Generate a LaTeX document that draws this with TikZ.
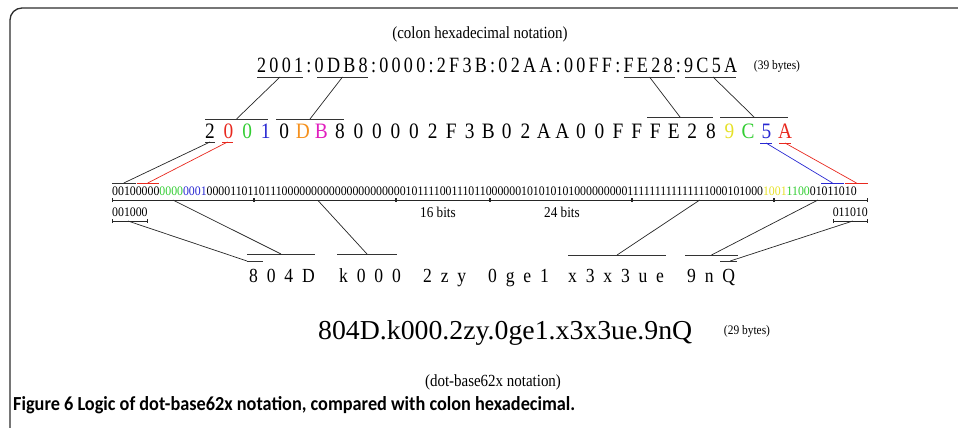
\documentclass[tikz,border=0pt]{standalone}
\usepackage{graphicx}
\usepackage{fontspec}
\setmainfont{Liberation Serif}
\newfontfamily\capfont{Carlito}
\usetikzlibrary{arrows.meta}
\definecolor{hred}{RGB}{232,40,30}
\definecolor{hgreen}{RGB}{50,205,50}
\definecolor{hblue}{RGB}{40,40,210}
\definecolor{horange}{RGB}{245,145,30}
\definecolor{hmagenta}{RGB}{225,30,190}
\definecolor{hyellow}{RGB}{230,225,40}
\definecolor{framegray}{RGB}{45,45,45}
\newcommand\narrow[1]{\scalebox{0.88}[1]{#1}}
\newcommand\bitsq[1]{\scalebox{0.9085}[1]{#1}}
\makeatletter
\newcommand\spread[2]{{\def\sp@first{1}\@tfor\sp@c:=#2\do{\ifnum\sp@first=1 \def\sp@first{0}\else\hspace{#1}\fi{\sp@c}}}}
\makeatother
\tikzset{
  lnk/.style={line width=0.7pt, black!85},
  bar/.style={line width=0.9pt, black!80},
  brk/.style={line width=0.7pt, black!85, {Bar[width=4pt]}-{Bar[width=4pt]}},
  hexch/.style={font=\fontsize{22}{22}\selectfont, inner sep=0pt, anchor=base},
  b62/.style={font=\fontsize{20}{20}\selectfont, inner sep=0pt, anchor=base west},
  bitfont/.style={font=\fontsize{13}{13}\selectfont, inner sep=0pt, anchor=base west},
  note/.style={font=\fontsize{15}{15}\selectfont, inner sep=0pt, anchor=base},
}
\begin{document}
\begin{tikzpicture}[x=1pt,y=-1pt]
        \useasboundingbox (0,0) rectangle (958,428);
        % frame
        \draw[line width=1.3pt, framegray, rounded corners=12pt] (10,428) -- (10,8) -- (958,8);

        % colon hexadecimal
        \node[note, font=\fontsize{17}{17}\selectfont] (hexlbl) at (480,38) {\narrow{(colon hexadecimal notation)}};
        \node[anchor=base west, inner sep=0pt] (hexrow) at (257,72)
            {\resizebox{480pt}{14.5pt}{\fontsize{22}{22}\selectfont\spread{0.18em}{2001:0DB8:0000:2F3B:02AA:00FF:FE28:9C5A}}};
        \node[note, font=\fontsize{13}{13}\selectfont] (hexsize) at (777,70) {\narrow{(39 bytes)}};
        \draw[bar] (257,77) -- (303,77) coordinate[midway] (u1);
        \draw[bar] (317,77) -- (368,77) coordinate[midway] (u2);
        \draw[bar] (624,77) -- (675,77) coordinate[midway] (u3);
        \draw[bar] (685,77) -- (736,77) coordinate[pos=.55] (u4);

        % hex digits one by one
        \foreach \ch/\col [count=\i] in {2/black,0/hred,0/hgreen,1/hblue,0/black,D/horange,B/hmagenta,8/black,
            0/black,0/black,0/black,0/black,2/black,F/black,3/black,B/black,
            0/black,2/black,A/black,A/black,0/black,0/black,F/black,F/black,
            F/black,E/black,2/black,8/black,9/hyellow,C/hgreen,5/hblue,A/hred}
            \node[hexch, text=\col] (c\i) at ({210+(\i-1)*18.55},138) {\narrow{\ch}};
        \draw[bar] (205,119) -- (268,119) coordinate[midway] (r1);
        \draw[bar] (276,119) -- (344,119) coordinate[midway] (r2);
        \draw[bar] (647,117) -- (713,117) coordinate[midway] (r3);
        \draw[bar] (720,117) -- (788,117) coordinate[midway] (r4);
        \draw[lnk] (u1) -- (r1);
        \draw[lnk] (u2) -- (r2);
        \draw[lnk] (u3) -- (r3);
        \draw[lnk] (u4) -- (r4);

        % marks under single digits
        \draw[bar] (205,142) -- (215,142) coordinate[midway] (d1);
        \draw[bar, hred] (222,142) -- (233,142) coordinate[midway] (d2);
        \draw[bar, hblue] (760,143) -- (772,143) coordinate[midway] (d3);
        \draw[bar, hred] (779,143) -- (791,143) coordinate[midway] (d4);

        % 128 bits
        \node[bitfont] (bits) at (112,195) {\bitsq{00100000{\color{hgreen}0000}{\color{hblue}0001}000011011011100000000000000000000010111100111011000000101010101000000000111111111111111000101000{\color{hyellow}1001}{\color{hgreen}1100}01011010}};
        \draw[bar] (112,183) -- (135.6,183) coordinate[midway] (t1);
        \draw[bar, hred] (136.5,183) -- (159,183) coordinate[midway] (t2);
        \draw[bar, hblue] (821,183) -- (844,183) coordinate[midway] (t3);
        \draw[bar, hred] (845,183) -- (868,183) coordinate[midway] (t4);
        \draw[lnk] (d1) -- (t1);
        \draw[lnk, hred] (d2) -- (t2);
        \draw[lnk, hblue] (d3) -- (t3);
        \draw[lnk, hred] (d4) -- (t4);

        % bit groups
        \draw[brk] (112,200) -- (253.7,200) coordinate[pos=.43] (s1);
        \draw[brk] (253.7,200) -- (395.5,200) coordinate[pos=.45] (s2);
        \draw[brk] (395.5,200) -- (490,200);
        \draw[brk] (490,200) -- (631.7,200);
        \draw[brk] (631.7,200) -- (773.5,200) coordinate[pos=.48] (s5);
        \draw[brk] (773.5,200) -- (868,200) coordinate[pos=.47] (s6);
        \node[note] (w16) at (438,217) {\narrow{16 bits}};
        \node[note] (w24) at (562,217) {\narrow{24 bits}};
        \node[bitfont] (first6) at (112,216) {\bitsq{001000}};
        \node[bitfont] (last6) at (832.6,216) {\bitsq{011010}};
        \draw[brk] (112,221) -- (147.4,221) coordinate[pos=.45] (l1);
        \draw[brk] (832.6,221) -- (868,221) coordinate[pos=.57] (l2);

        % base62x groups
        \node[b62] (g804D) at (249,282) {\narrow{\spread{0.5em}{804D}}};
        \node[b62] (gk000) at (339,282) {\narrow{\spread{0.5em}{k000}}};
        \node[b62] (g2zy) at (423,282) {\narrow{\spread{0.5em}{2zy}}};
        \node[b62] (g0ge1) at (488,282) {\narrow{\spread{0.5em}{0ge1}}};
        \node[b62] (gx3x3ue) at (568,282) {\narrow{\spread{0.5em}{x3x3ue}}};
        \node[b62] (g9nQ) at (687,282) {\narrow{\spread{0.5em}{9nQ}}};
        \draw[bar] (247,254) -- (315,254) coordinate[midway] (o1);
        \draw[bar] (337,254) -- (397,254) coordinate[midway] (o2);
        \draw[bar] (568,255) -- (666,255) coordinate[midway] (o5);
        \draw[bar] (685,255) -- (738,255) coordinate[midway] (o6);
        \draw[bar] (247,261) -- (263,261) coordinate[pos=0] (e1);
        \draw[bar] (720,261) -- (737,261) coordinate[pos=.6] (e2);
        \draw[lnk] (s1) -- (o1);
        \draw[lnk] (s2) -- (o2);
        \draw[lnk] (s5) -- (o5);
        \draw[lnk] (s6) -- (o6);
        \draw[lnk] (l1) -- (e1);
        \draw[lnk] (l2) -- (e2);

        % dot-base62x
        \node[anchor=base west, inner sep=0pt] (dotrow) at (318,339)
            {\resizebox{374pt}{19pt}{\fontsize{28}{28}\selectfont 804D.k000.2zy.0ge1.x3x3ue.9nQ}};
        \node[note, font=\fontsize{13}{13}\selectfont] (dotsize) at (747,334) {\narrow{(29 bytes)}};
        \node[note, font=\fontsize{17}{17}\selectfont] (dotlbl) at (493,386) {\narrow{(dot-base62x notation)}};

        % caption
        \node[anchor=base west, inner sep=0pt] (caption) at (13,410)
            {\resizebox{562pt}{14pt}{\capfont\bfseries\fontsize{18}{18}\selectfont Figure 6 Logic of dot-base62x notation, compared with colon hexadecimal.}};
\end{tikzpicture}
\end{document}
